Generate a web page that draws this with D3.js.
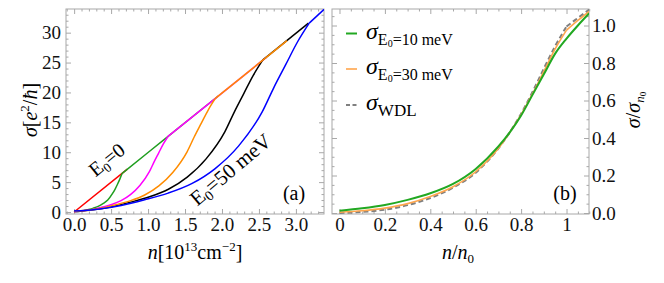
<!DOCTYPE html>
<html><head><meta charset="utf-8">
<script src="https://cdn.jsdelivr.net/npm/d3@7"></script>
<style>
body{margin:0;background:#fff}
svg{display:block}
</style>
</head><body>
<svg id="c" width="664" height="283" font-family="'Liberation Serif', 'DejaVu Serif', serif"></svg>
<script>
// ---------- Panel (a) data: n [10^13 cm^-2], sigma [e^2/hbar] ----------
const redData = [[0,0],[0.72,7.16]];
const greenData = [[0,0.03],[0.065,0.1],[0.13,0.23],[0.195,0.42],[0.26,0.65],[0.325,0.95],[0.39,1.4],[0.455,2.0],[0.52,3.1],[0.553,3.8],[0.585,4.6],[0.618,5.5],[0.65,6.47],[1.0,9.95],[1.3,12.94],[1.95,19.4]];
const magentaData = [[0,0.06],[0.127,0.19],[0.254,0.44],[0.381,0.82],[0.508,1.26],[0.635,1.9],[0.762,2.9],[0.889,4.42],[1.016,6.7],[1.08,8.34],[1.143,9.86],[1.207,11.4],[1.27,12.64],[2.0,19.9],[2.6,25.87]];
const orangeData = [[0,0.1],[0.191,0.29],[0.382,0.67],[0.573,1.24],[0.764,1.9],[0.955,2.85],[1.146,4.37],[1.337,6.65],[1.528,10.07],[1.624,12.54],[1.719,14.82],[1.815,17.1],[1.91,19.0],[2.88,28.66]];
const blackData = [[0,0.13],[0.255,0.38],[0.51,0.89],[0.765,1.65],[1.02,2.54],[1.275,3.81],[1.53,5.84],[1.785,8.89],[2.04,13.46],[2.168,16.76],[2.295,19.81],[2.423,22.86],[2.55,25.4],[3.17,31.6]];
const blueData = [[0,0.16],[0.318,0.47],[0.636,1.1],[0.954,2.05],[1.272,3.16],[1.59,4.74],[1.908,7.27],[2.226,11.06],[2.544,16.75],[2.703,20.86],[2.862,24.65],[3.021,28.44],[3.18,31.6],[3.38,33.9]];
const curveColorsA = ["#ff0000","#1f9e1f","#ff00ff","#000000","#ff8c00","#0000ff"];
const kinkN = [0, 0.65, 1.27, 2.55, 1.91, 3.18];
const xTicksA = [0,0.5,1,1.5,2,2.5,3];
const yTicksA = [0,5,10,15,20,25,30];

// ---------- Panel (b) data: n/n0, sigma/sigma_n0 ----------
const tVals   = [0,0.1,0.2,0.3,0.4,0.5,0.6,0.7,0.75,0.8,0.85,0.9,0.95,1.0,1.05,1.1];
const green10 = [0.012,0.025,0.043,0.07,0.105,0.155,0.235,0.355,0.43,0.52,0.63,0.74,0.85,0.93,1.0,1.065];
const orange30= [0.004,0.012,0.026,0.05,0.088,0.14,0.22,0.345,0.43,0.525,0.635,0.755,0.875,0.975,1.027,1.075];
const wdl     = [0,0.006,0.018,0.042,0.08,0.135,0.215,0.345,0.43,0.53,0.645,0.77,0.89,0.995,1.04,1.085];
const xTicksB = [0,0.2,0.4,0.6,0.8,1];
const yTicksB = [0,0.2,0.4,0.6,0.8,1.0];
const legendLabels = ["10 meV","30 meV","WDL"];

const FONT = "'Liberation Serif', 'DejaVu Serif', serif";
const svg = d3.select("#c");
const FS = 19;
const frameCol = "#a8a8a8";

function frame(g, x, y, xMaj, xMin, yMaj, yMin, xFmt, yFmt, ySide){
  const [x0,x1] = x.range(), [y0,y1] = y.range();
  const ax = (axis, tr, ticks, size, fmt, pad) => {
    const a = g.append("g").attr("transform", tr)
      .call(axis.tickValues(ticks).tickSizeInner(size).tickSizeOuter(0).tickPadding(pad||5).tickFormat(fmt || (()=>"")));
    a.attr("font-family", FONT).attr("font-size", FS);
    a.select(".domain").remove();
    a.selectAll("line").attr("stroke", frameCol);
    a.selectAll("text").attr("fill","#111");
    return a;
  };
  ax(d3.axisBottom(x), `translate(0,${y0})`, xMaj, -5, xFmt, 4);
  ax(d3.axisBottom(x), `translate(0,${y0})`, xMin, -2.5, null);
  ax(d3.axisTop(x), `translate(0,${y1})`, xMaj, -5, null);
  ax(d3.axisTop(x), `translate(0,${y1})`, xMin, -2.5, null);
  ax(d3.axisLeft(y), `translate(${x0},0)`, yMaj, -5, ySide==="left"?yFmt:null, 5);
  ax(d3.axisLeft(y), `translate(${x0},0)`, yMin, -2.5, null);
  ax(d3.axisRight(y), `translate(${x1},0)`, yMaj, -5, ySide==="right"?yFmt:null, 3);
  ax(d3.axisRight(y), `translate(${x1},0)`, yMin, -2.5, null);
  g.append("rect").attr("x",x0).attr("y",y1).attr("width",x1-x0).attr("height",y0-y1)
    .attr("fill","none").attr("stroke",frameCol).attr("stroke-width",1);
}

// ================= Panel (a) =================
const xA = d3.scaleLinear().domain([-0.11,3.38]).range([66,324]);
const yA = d3.scaleLinear().domain([-0.335,33.96]).range([214,9]);
const gA = svg.append("g");
svg.append("clipPath").attr("id","clipA").append("rect")
  .attr("x",66).attr("y",9).attr("width",258).attr("height",205);

const rng = (a,b,s)=>d3.range(Math.round(a/s),Math.round(b/s)+1).map(i=>+(i*s).toFixed(4));
frame(gA, xA, yA, xTicksA, rng(-0.1,3.3,0.1).filter(v=>!xTicksA.includes(v)),
  yTicksA, rng(0,33,1).filter(v=>!yTicksA.includes(v)), d3.format(".1f"), d3.format("d"), "left");

const curvesA = [redData, greenData, magentaData, blackData, orangeData, blueData];
const lineMono = d3.line().x(d=>xA(d[0])).y(d=>yA(d[1])).curve(d3.curveMonotoneX);
const lineLin = d3.line().x(d=>xA(d[0])).y(d=>yA(d[1]));
const plotA = gA.append("g").attr("clip-path","url(#clipA)");
curvesA.forEach((data,i)=>{
  const k = kinkN[i];
  const low = data.filter(d=>d[0]<=k+1e-9);
  const high = data.filter(d=>d[0]>=k-1e-9);
  if(low.length>1) plotA.append("path").attr("d",lineMono(low)).attr("fill","none")
    .attr("stroke",curveColorsA[i]).attr("stroke-width",1.5).attr("stroke-linejoin","round");
  if(high.length>1) plotA.append("path").attr("d",lineLin(high)).attr("fill","none")
    .attr("stroke",curveColorsA[i]).attr("stroke-width",1.5).attr("stroke-linejoin","round");
});

// annotations (a)
const tE0 = gA.append("text").attr("transform","translate(111,165) rotate(-39)")
  .attr("text-anchor","middle").attr("font-size",20);
tE0.append("tspan").text("E");
tE0.append("tspan").attr("dy",4).attr("font-size",13).text("0");
tE0.append("tspan").attr("dy",-4).text("=0");

const tE50 = gA.append("text").attr("transform","translate(235,175) rotate(-40)")
  .attr("text-anchor","middle").attr("font-size",21);
tE50.append("tspan").text("E");
tE50.append("tspan").attr("dy",4).attr("font-size",14).text("0");
tE50.append("tspan").attr("dy",-4).text("=50 meV");

gA.append("text").attr("x",294).attr("y",200).attr("text-anchor","middle").attr("font-size",20).text("(a)");

// axis labels (a)
const xlA = gA.append("text").attr("x",195).attr("y",259).attr("text-anchor","middle").attr("font-size",20);
xlA.append("tspan").attr("font-style","italic").text("n");
xlA.append("tspan").text("[10");
xlA.append("tspan").attr("dy",-8).attr("font-size",13).text("13");
xlA.append("tspan").attr("dy",8).text("cm");
xlA.append("tspan").attr("dy",-8).attr("font-size",13).text("\u22122");
xlA.append("tspan").attr("dy",8).text("]");

const ylA = gA.append("text").attr("transform","translate(37,110) rotate(-90)").attr("text-anchor","middle").attr("font-size",20);
ylA.append("tspan").attr("font-style","italic").text("\u03c3");
ylA.append("tspan").text("[");
ylA.append("tspan").attr("font-style","italic").text("e");
ylA.append("tspan").attr("dy",-8).attr("font-size",13).text("2");
ylA.append("tspan").attr("dy",8).text("/");
ylA.append("tspan").attr("font-style","italic").text("\u0127");
ylA.append("tspan").text("]");

// ================= Panel (b) =================
const xB = d3.scaleLinear().domain([-0.033,1.099]).range([332,589]);
const yB = d3.scaleLinear().domain([-0.0053,1.088]).range([214,9]);
const gB = svg.append("g");
svg.append("clipPath").attr("id","clipB").append("rect")
  .attr("x",332).attr("y",9).attr("width",257).attr("height",205);
frame(gB, xB, yB, xTicksB, rng(0,1.1,0.05).filter(v=>!xTicksB.some(t=>Math.abs(t-v)<1e-6)),
  yTicksB, rng(0,1.05,0.05).filter(v=>!yTicksB.some(t=>Math.abs(t-v)<1e-6)), d3.format(""), d3.format(".1f"), "right");

const plotB = gB.append("g").attr("clip-path","url(#clipB)");
const lineB = d3.line().x(d=>xB(d[0])).y(d=>yB(d[1])).curve(d3.curveMonotoneX);
const seriesB = [
  {vals: green10, color:"#22a822", width:2, dash:null, split:false},
  {vals: orange30, color:"#ffa64d", width:1.6, dash:null, split:true},
  {vals: wdl, color:"#808080", width:2, dash:"5,3", split:true}
];
[seriesB[2], seriesB[1], seriesB[0]].forEach(s=>{
  const pts = tVals.map((t,i)=>[t,s.vals[i]]);
  const parts = s.split ? [pts.filter(d=>d[0]<=1), pts.filter(d=>d[0]>=1)] : [pts];
  parts.forEach(p=>{
    plotB.append("path").attr("d",lineB(p)).attr("fill","none").attr("stroke",s.color)
      .attr("stroke-width",s.width).attr("stroke-dasharray",s.dash);
  });
});

gB.append("text").attr("x",565).attr("y",200).attr("text-anchor","middle").attr("font-size",20).text("(b)");

// legend
const legY = [33.5, 69, 105];
seriesB.forEach((s,i)=>{
  gB.append("line").attr("x1",346).attr("x2",357).attr("y1",legY[i]).attr("y2",legY[i])
    .attr("stroke",s.color).attr("stroke-width",s.width).attr("stroke-dasharray",s.dash?"4,2.5":null);
  const t = gB.append("text").attr("x",366).attr("y",legY[i]+5).attr("font-size",24);
  t.append("tspan").attr("font-style","italic").text("\u03c3");
  if(i<2){
    t.append("tspan").attr("dy",6).attr("font-size",16).text("E");
    t.append("tspan").attr("dy",2).attr("font-size",10).text("0");
    t.append("tspan").attr("dy",-2).attr("font-size",16).text("=" + legendLabels[i]);
  } else {
    t.append("tspan").attr("dy",6).attr("font-size",17).text(legendLabels[i]);
  }
});

// axis labels (b)
const xlB = gB.append("text").attr("x",458).attr("y",259).attr("text-anchor","middle").attr("font-size",20);
xlB.append("tspan").attr("font-style","italic").text("n");
xlB.append("tspan").text("/");
xlB.append("tspan").attr("font-style","italic").text("n");
xlB.append("tspan").attr("dy",4).attr("font-size",13).text("0");

const ylB = gB.append("text").attr("transform","translate(640,110) rotate(-90)").attr("text-anchor","middle").attr("font-size",20);
ylB.append("tspan").attr("font-style","italic").text("\u03c3");
ylB.append("tspan").text("/");
ylB.append("tspan").attr("font-style","italic").text("\u03c3");
ylB.append("tspan").attr("dy",4).attr("font-size",13).attr("font-style","italic").text("n");
ylB.append("tspan").attr("dy",2).attr("font-size",9).text("0");
</script>
</body></html>
